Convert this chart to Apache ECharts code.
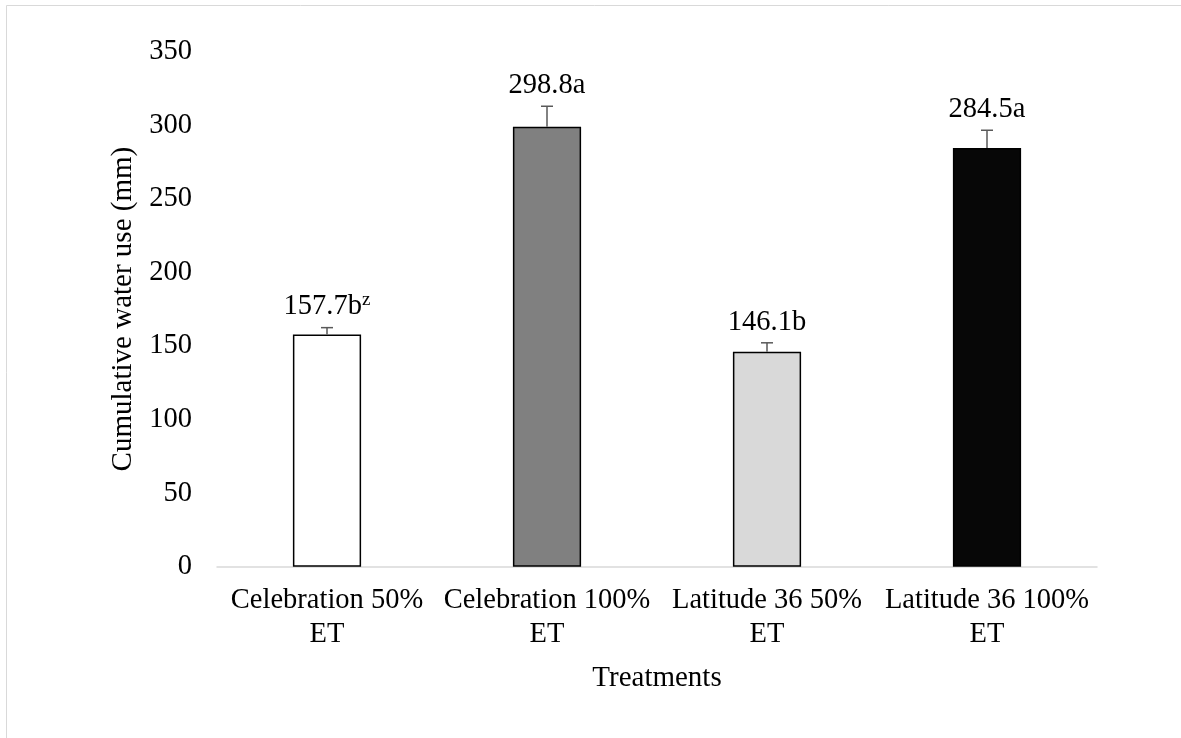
<!DOCTYPE html>
<html>
<head>
<meta charset="utf-8">
<script src="https://cdn.jsdelivr.net/npm/echarts@6/dist/echarts.min.js"></script>
<style>html,body{margin:0;padding:0;background:#fff;}#c{width:1181px;height:738px;}</style>
</head>
<body>
<div id="c"></div>
<script>
var categories = ['Celebration 50%\nET', 'Celebration 100%\nET', 'Latitude 36 50%\nET', 'Latitude 36 100%\nET'];
var values = [157.7, 298.8, 146.1, 284.5];
var errors = [4.7, 14.0, 6.0, 12.0];
var letters = ['157.7b', '298.8a', '146.1b', '284.5a'];
var superscripts = ['z', '', '', ''];
var yTicks = [0, 50, 100, 150, 200, 250, 300, 350];

var barColors = ['#ffffff', '#808080', '#d9d9d9', '#070707'];
var FONT = '"Liberation Serif", "Times New Roman", serif';

var chart = echarts.init(document.getElementById('c'), null, {renderer: 'canvas'});

chart.setOption({
  animation: false,
  backgroundColor: '#ffffff',
  graphic: [{
    type: 'rect',
    shape: {x: 6.5, y: 5.5, width: 1300, height: 800},
    style: {fill: 'none', stroke: '#d9d9d9', lineWidth: 1},
    silent: true, z: -10
  }],
  grid: {left: 217, right: 84, top: 51.5, bottom: 171.3, containLabel: false},
  xAxis: {
    type: 'category',
    data: categories,
    name: 'Treatments',
    nameLocation: 'middle',
    nameGap: 97,
    nameTextStyle: {fontFamily: FONT, fontSize: 29, color: '#000'},
    axisLine: {show: true, lineStyle: {color: '#d9d9d9', width: 1.5}},
    axisTick: {show: false},
    axisLabel: {fontFamily: FONT, fontSize: 28.5, color: '#000', lineHeight: 34, margin: 17, interval: 0}
  },
  yAxis: {
    type: 'value',
    min: yTicks[0],
    max: yTicks[yTicks.length - 1],
    interval: 50,
    name: 'Cumulative water use (mm)',
    nameLocation: 'middle',
    nameGap: 72,
    nameTextStyle: {fontFamily: FONT, fontSize: 29, color: '#000'},
    axisLine: {show: false},
    axisTick: {show: false},
    splitLine: {show: false},
    axisLabel: {fontFamily: FONT, fontSize: 28.5, color: '#000', margin: 25}
  },
  series: [{
    type: 'bar',
    barWidth: '31%',
    data: values.map(function (v, i) {
      return {value: v, itemStyle: {color: barColors[i], borderColor: '#000', borderWidth: 1.5}};
    }),
    z: 2
  }, {
    type: 'custom',
    data: values.map(function (v, i) { return [i, v, errors[i]]; }),
    z: 3,
    renderItem: function (params, api) {
      var i = api.value(0), v = api.value(1), e = api.value(2);
      var p0 = api.coord([i, v]);
      var p1 = api.coord([i, v + e]);
      var half = 6;
      var lbl = '{a|' + letters[i] + '}' + (superscripts[i] ? '{s|' + superscripts[i] + '}' : '');
      return {
        type: 'group',
        children: [
          {type: 'line', shape: {x1: p0[0], y1: p0[1], x2: p1[0], y2: p1[1]}, style: {stroke: '#595959', lineWidth: 1.5}},
          {type: 'line', shape: {x1: p1[0] - half, y1: p1[1], x2: p1[0] + half, y2: p1[1]}, style: {stroke: '#595959', lineWidth: 1.5}},
          {type: 'text', x: p1[0], y: p1[1] - 6,
            style: {
              text: lbl, align: 'center', verticalAlign: 'bottom',
              rich: {
                a: {fontFamily: FONT, fontSize: 28.5, fill: '#000', color: '#000'},
                s: {fontFamily: FONT, fontSize: 19, fill: '#000', color: '#000', verticalAlign: 'top', padding: [0, 0, 12, 0]}
              }
            }}
        ]
      };
    }
  }]
});
</script>
</body>
</html>
